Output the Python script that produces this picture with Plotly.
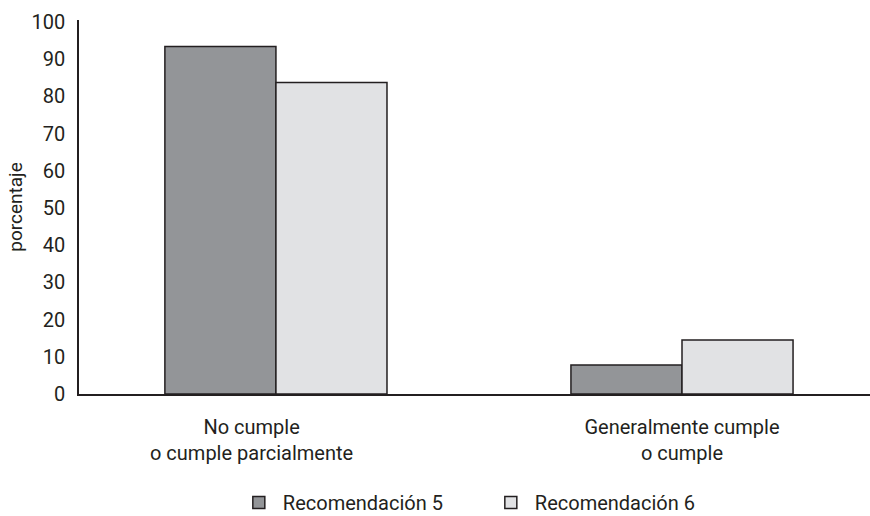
import plotly.graph_objects as go

categories = ["No cumple<br>o cumple parcialmente", "Generalmente cumple<br>o cumple"]
category_pos = [-0.06, 1.0]
rec5 = [93.4, 7.8]
rec6 = [83.7, 14.5]
series_names = ["Recomendación 5", "Recomendación 6"]
y_ticks = [0, 10, 20, 30, 40, 50, 60, 70, 80, 90, 100]

FONT = "Roboto, sans-serif"

fig = go.Figure()
fig.add_trace(go.Bar(x=[0, 1], y=rec5, name=series_names[0],
                     marker=dict(color="#939598", line=dict(color="#231f20", width=1.5))))
fig.add_trace(go.Bar(x=[0, 1], y=rec6, name=series_names[1],
                     marker=dict(color="#e1e2e4", line=dict(color="#231f20", width=1.5))))

fig.update_layout(
    width=870, height=516,
    margin=dict(l=79, r=0, t=20, b=122, autoexpand=False),
    paper_bgcolor="white", plot_bgcolor="white",
    font=dict(family=FONT, size=19, color="#231f20"),
    barmode="group", bargap=0.453, bargroupgap=0.0,
    showlegend=True,
    legend=dict(orientation="h", x=0.197, xanchor="left", y=-0.238, yanchor="top",
                font=dict(size=20), itemwidth=38, entrywidthmode="pixels", entrywidth=199,
                traceorder="normal"),
)
fig.update_xaxes(range=[-0.485, 1.463], tickmode="array", tickvals=category_pos, ticktext=categories,
                 showline=True, linecolor="#231f20", linewidth=1.5, showgrid=False,
                 ticks="", ticklen=0, zeroline=False, tickfont=dict(size=20),
                 automargin=False, ticklabelstandoff=14)
fig.update_yaxes(range=[0, 100.5], tickmode="array", tickvals=y_ticks,
                 showline=True, linecolor="#231f20", linewidth=1.5, showgrid=False,
                 ticks="", zeroline=False, tickfont=dict(size=20), automargin=False,
                 ticklabelstandoff=8,
                 title=dict(text="porcentaje", font=dict(size=19), standoff=4))

fig.write_html("out.html", config={"displayModeBar": False},
               post_script="document.body.style.margin='0';")
